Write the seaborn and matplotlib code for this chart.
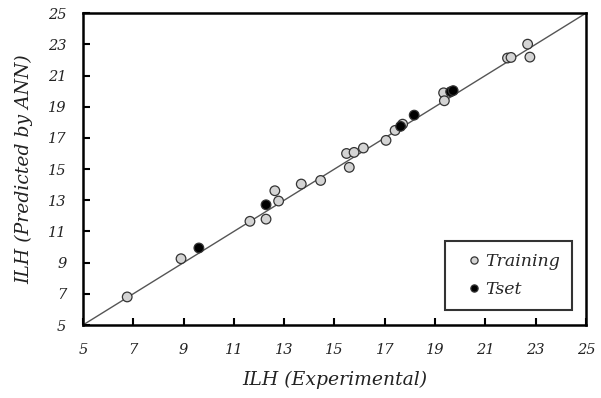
import matplotlib
matplotlib.use("Agg")
import matplotlib.pyplot as plt
import seaborn as sns
import pandas as pd

train_x = [6.76, 8.90, 11.64, 12.28, 12.63, 12.78, 13.68, 14.45, 15.48, 15.59, 15.78,
           16.15, 17.05, 17.41, 17.71, 19.34, 19.37, 21.88, 22.02, 22.68, 22.77]
train_y = [6.80, 9.25, 11.65, 11.79, 13.61, 12.95, 14.04, 14.27, 16.00, 15.11, 16.07,
           16.35, 16.84, 17.48, 17.88, 19.89, 19.38, 22.12, 22.16, 23.01, 22.18]
tset_x = [9.61, 12.28, 17.63, 18.17, 19.62, 19.72]
tset_y = [9.94, 12.71, 17.74, 18.46, 19.96, 20.03]
ticks = [5, 7, 9, 11, 13, 15, 17, 19, 21, 23, 25]

df = pd.DataFrame({
    "x": train_x + tset_x,
    "y": train_y + tset_y,
    "set": ["Training"] * len(train_x) + ["Tset"] * len(tset_x),
})

sns.set_theme(style="white")
plt.rcParams["font.family"] = ["DejaVu Serif"]

fig = plt.figure(figsize=(6.01, 3.98), dpi=100)
ax = fig.add_axes([0.138, 0.1834, 0.837, 0.7836])

ax.plot([5, 25], [5, 25], color="#555555", lw=1.0, zorder=1)
sns.scatterplot(data=df, x="x", y="y", hue="set",
                palette={"Training": "#d4d4d4", "Tset": "#000000"},
                edgecolor="#333333", linewidth=0.9, s=48, ax=ax, zorder=3)

ax.set_xlim(5, 25)
ax.set_ylim(5, 25)
ax.set_xticks(ticks)
ax.set_yticks(ticks)
ax.set_xticklabels([str(t) for t in ticks], fontstyle="italic", fontsize=10.5, color="#222222")
ax.set_yticklabels([str(t) for t in ticks], fontstyle="italic", fontsize=10.5, color="#222222")
ax.tick_params(axis="both", direction="in", length=5, width=1.5, color="black",
               bottom=True, left=True, top=False, right=False)
ax.tick_params(axis="x", pad=13)
ax.tick_params(axis="y", pad=12)
for sp in ax.spines.values():
    sp.set_color("black")
    sp.set_linewidth(1.8)

ax.set_xlabel("ILH (Experimental)", fontstyle="italic", fontsize=13.5, color="#222222")
ax.set_ylabel("ILH (Predicted by ANN)", fontstyle="italic", fontsize=13.5, color="#222222")
ax.xaxis.set_label_coords(0.5, (325 - 380) / 312.0)
ax.yaxis.set_label_coords((24 - 83) / 503.0, 0.5)
ax.xaxis.label.set_va("center")
ax.yaxis.label.set_va("center")

handles, labels = ax.get_legend_handles_labels()
leg = ax.legend(handles, labels, loc="lower right", bbox_to_anchor=(0.972, 0.048),
                frameon=True, fancybox=False, edgecolor="black",
                prop={"style": "italic", "size": 12.5}, handletextpad=-0.4,
                markerscale=0.75, borderpad=0.7, labelspacing=0.6, handlelength=2.0,
                borderaxespad=0)
leg.get_frame().set_linewidth(1.5)

fig.savefig("out.png", dpi=100)
